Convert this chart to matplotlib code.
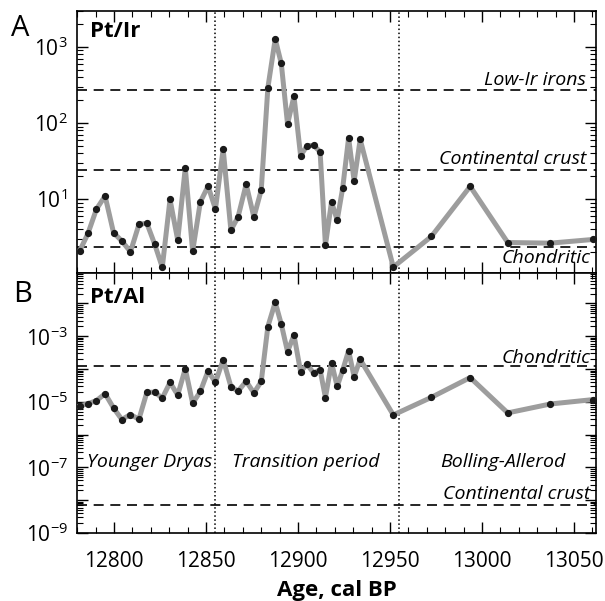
import matplotlib
matplotlib.use('Agg')
import matplotlib.pyplot as plt
from matplotlib.ticker import LogLocator, MultipleLocator, FuncFormatter, NullFormatter
import numpy as np

plt.rcParams['font.family'] = ['Open Sans', 'DejaVu Sans']
plt.rcParams['mathtext.default'] = 'regular'

# Sample ages (cal BP), shared by both panels
age = [12781.3, 12785.8, 12790.4, 12795.1, 12799.7, 12804.2, 12808.9, 12813.5,
       12817.8, 12822.0, 12826.2, 12830.4, 12834.6, 12838.7, 12842.7, 12846.9,
       12851.1, 12855.1, 12859.3, 12863.5, 12867.4, 12871.8, 12876.0, 12880.0,
       12883.6, 12887.6, 12890.9, 12894.3, 12897.8, 12901.4, 12904.9, 12908.5,
       12912.0, 12914.9, 12918.2, 12921.3, 12924.3, 12927.5, 12930.5, 12933.8,
       12951.8, 12972.5, 12993.6, 13014.0, 13037.2, 13060.3]

pt_ir = [2.09, 3.54, 7.39, 11.0, 3.61, 2.82, 2.03, 4.65,
         4.83, 2.58, 1.27, 9.9, 2.89, 25.8, 2.07, 9.2,
         14.8, 7.4, 45.5, 3.9, 5.85, 15.7, 5.8, 13.2,
         291, 1274, 607, 97, 226, 37.2, 50.2, 51,
         41.9, 2.48, 9.2, 5.3, 14.1, 64, 17.3, 61,
         1.28, 3.23, 14.7, 2.69, 2.64, 2.95]

pt_al = [7.46e-6, 8.8e-6, 1.09e-5, 1.77e-5, 6.5e-6, 2.89e-6, 4.1e-6, 2.95e-6,
         1.94e-5, 1.98e-5, 1.30e-5, 3.9e-5, 1.61e-5, 1.03e-4, 9.0e-6, 2.08e-5,
         8.8e-5, 3.9e-5, 1.94e-4, 2.91e-5, 2.11e-5, 4.24e-5, 1.87e-5, 4.18e-5,
         1.97e-3, 1.09e-2, 2.34e-3, 3.39e-4, 1.09e-3, 8.3e-5, 1.40e-4, 7.5e-5,
         9.5e-5, 1.35e-5, 1.57e-4, 2.95e-5, 9.3e-5, 3.64e-4, 5.8e-5, 1.97e-4,
         3.98e-6, 1.37e-5, 5.5e-5, 4.6e-6, 8.6e-6, 1.17e-5]

# reference ratios
ir_ref_names = ["Low-Ir irons", "Continental crust", "Chondritic"]
ir_ref_values = [272, 24, 2.33]
al_ref_names = ["Chondritic", "Continental crust"]
al_ref_values = [1.2e-4, 7e-9]

boundaries = [12854.7, 12955]
period_names = ["Younger Dryas", "Transition period", "Bolling-Allerod"]
period_centers = [12819.5, 12904.3, 13011.4]

fig = plt.figure(figsize=(6.05, 6.01), dpi=100)
axA = fig.add_axes([0.1278, 0.5458, 0.8573, 0.4364])
axB = fig.add_axes([0.1278, 0.1131, 0.8573, 0.4327])

line_grey = '#9d9d9d'
lab_size = 14


def style_axis(ax, odd_only):
    ax.set_yscale('log')
    ax.set_xlim(12780, 13062)
    ax.xaxis.set_major_locator(MultipleLocator(50))
    ax.xaxis.set_minor_locator(MultipleLocator(10))
    ax.yaxis.set_major_locator(LogLocator(base=10, numticks=20))
    ax.yaxis.set_minor_locator(LogLocator(base=10, subs=np.arange(2, 10), numticks=20))
    ax.yaxis.set_minor_formatter(NullFormatter())

    def fmt(v, pos):
        e = int(round(np.log10(v)))
        if odd_only and e % 2 == 0:
            return ''
        return '$10^{%d}$' % e
    ax.yaxis.set_major_formatter(FuncFormatter(fmt))
    ax.tick_params(which='both', direction='in', top=True, right=True,
                   labelsize=15, pad=7)
    ax.tick_params(axis='x', pad=13)
    ax.tick_params(which='major', length=8, width=1)
    ax.tick_params(which='minor', length=4.5, width=0.8)
    for s in ax.spines.values():
        s.set_linewidth(1.2)
    for b in boundaries:
        ax.axvline(b, color='black', linestyle=':', linewidth=1.1)


# Panel A: Pt/Ir
style_axis(axA, False)
axA.set_ylim(1.07, 3000)
axA.plot(age, pt_ir, color=line_grey, linewidth=3.6, zorder=3)
axA.plot(age, pt_ir, 'o', color='#1a1a1a', markersize=4.2, zorder=4)
for name, val in zip(ir_ref_names, ir_ref_values):
    axA.axhline(val, color='black', linestyle=(0, (6, 4)), linewidth=1.2)
axA.text(13056.5, 368, "Low-Ir irons", ha='right', va='center', style='italic', fontsize=lab_size)
axA.text(13056.5, 33.6, "Continental crust", ha='right', va='center', style='italic', fontsize=lab_size)
axA.text(13059, 1.67, "Chondritic", ha='right', va='center', style='italic', fontsize=lab_size)
axA.tick_params(axis='x', labelbottom=False)
axA.text(0.025, 0.9, "Pt/Ir", transform=axA.transAxes, fontsize=16, fontweight='bold')

# Panel B: Pt/Al
style_axis(axB, True)
axB.set_ylim(1e-9, 0.085)
axB.plot(age, pt_al, color=line_grey, linewidth=3.6, zorder=3)
axB.plot(age, pt_al, 'o', color='#1a1a1a', markersize=4.2, zorder=4)
for name, val in zip(al_ref_names, al_ref_values):
    axB.axhline(val, color='black', linestyle=(0, (6, 4)), linewidth=1.2)
axB.text(13059, 2.23e-4, "Chondritic", ha='right', va='center', style='italic', fontsize=lab_size)
axB.text(13059, 1.58e-8, "Continental crust", ha='right', va='center', style='italic', fontsize=lab_size)
for name, xc in zip(period_names, period_centers):
    axB.text(xc, 1.45e-7, name, ha='center', va='center', style='italic', fontsize=lab_size)
axB.text(0.025, 0.885, "Pt/Al", transform=axB.transAxes, fontsize=16, fontweight='bold')
axB.set_xlabel("Age, cal BP", fontsize=16, fontweight='bold', labelpad=6)

fig.text(11 / 605, 1 - 28 / 601, "A", fontsize=21, va='center')
fig.text(13 / 605, 1 - 295 / 601, "B", fontsize=21, va='center')

fig.savefig('out.png', dpi=100)
